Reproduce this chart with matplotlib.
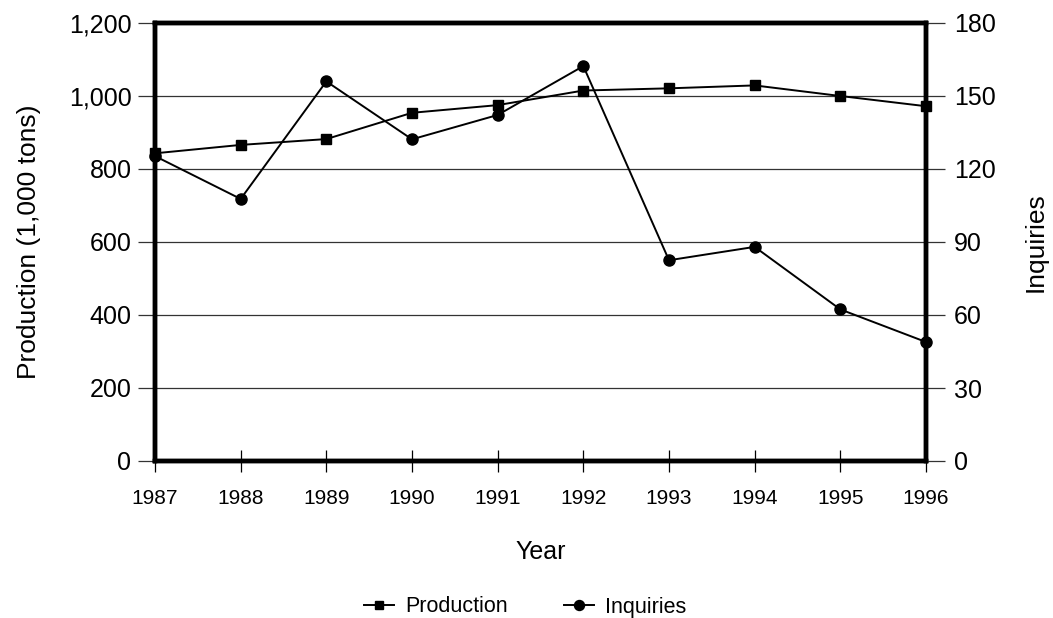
import matplotlib
matplotlib.use("Agg")
import matplotlib.pyplot as plt
from matplotlib.ticker import FuncFormatter

plt.rcParams['font.family'] = ['Liberation Sans', 'DejaVu Sans']

years = [1987, 1988, 1989, 1990, 1991, 1992, 1993, 1994, 1995, 1996]
production = [843, 866, 882, 954, 975, 1015, 1021, 1029, 1000, 972]
inquiries = [125.3, 107.7, 156, 132.2, 142.2, 162.3, 82.5, 88, 62.3, 48.9]
left_ticks = [0, 200, 400, 600, 800, 1000, 1200]
right_ticks = [0, 30, 60, 90, 120, 150, 180]

W, H = 1053, 618
fig = plt.figure(figsize=(W / 100, H / 100), dpi=100)
ax = fig.add_axes([155 / W, 1 - 461 / H, (926 - 155) / W, (461 - 23) / H])
ax2 = ax.twinx()

ax.set_xlim(years[0], years[-1])
ax.set_ylim(0, 1200)
ax2.set_ylim(0, 180)
ax.set_yticks(left_ticks)
ax2.set_yticks(right_ticks)
ax.set_xticks(years)
ax.yaxis.set_major_formatter(FuncFormatter(lambda v, p: f"{int(v):,}"))

ax.grid(axis='y', color='#333333', linewidth=0.9)
ax.set_axisbelow(True)

l1, = ax.plot(years, production, color='black', linewidth=1.4, marker='s',
              markersize=7, clip_on=False, zorder=5, label='Production')
l2, = ax2.plot(years, inquiries, color='black', linewidth=1.4, marker='o',
               markersize=8, clip_on=False, zorder=5, label='Inquiries')

for a in (ax, ax2):
    for s in a.spines.values():
        s.set_linewidth(3.2)
        s.set_color('black')

ax.tick_params(axis='y', direction='out', length=12, width=0.9, color='#333333',
               labelsize=18, pad=5)
ax2.tick_params(axis='y', direction='out', length=14, width=0.9, color='#333333',
                labelsize=18, pad=6)
ax.tick_params(axis='x', direction='inout', length=16, width=0.9, color='black',
               labelsize=15, pad=12)

ax.set_xlabel('Year', fontsize=18, labelpad=23)
ax.set_ylabel('Production (1,000 tons)', fontsize=19, labelpad=20)
ax2.set_ylabel('Inquiries', fontsize=19, labelpad=20)

fig.legend(handles=[l1, l2], labels=['Production', 'Inquiries'], loc='center',
           bbox_to_anchor=(525 / W, 1 - 607 / H), ncol=2, frameon=False,
           fontsize=15.5, handlelength=1.4, columnspacing=2.6, handletextpad=0.5,
           markerscale=0.9)

fig.savefig('out.png', dpi=100)
